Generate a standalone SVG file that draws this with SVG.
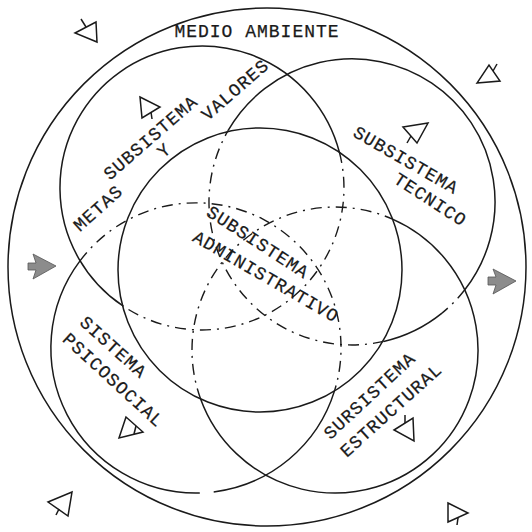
<svg xmlns="http://www.w3.org/2000/svg" width="532" height="532" viewBox="0 0 532 532">
<style>
.ln{fill:none;stroke:#1a1a1a;stroke-width:1.5}
.dd{fill:none;stroke:#1a1a1a;stroke-width:1.4;stroke-dasharray:11 6 2 6}
.tri{fill:none;stroke:#1a1a1a;stroke-width:1.5;stroke-linejoin:miter}
.ga{fill:#8c8c8c;stroke:#555;stroke-width:0.8}
text{font-family:"Liberation Mono","DejaVu Sans Mono",monospace;font-size:18px;letter-spacing:1px;fill:#1a1a1a;stroke:#1a1a1a;stroke-width:0.25;text-anchor:middle}
</style>
<rect width="532" height="532" fill="#fff"/>

<g id="medio-ambiente">
  <circle class="ln" cx="267" cy="267" r="259"/>
  <text x="257" y="37">MEDIO AMBIENTE</text>
</g>

<g id="subsistema-metas-valores">
  <path class="ln" d="M122.6,305.7 A142,142 0 1 1 339.4,152.2"/>
  <path class="dd" d="M339.4,152.2 A142,142 0 0 1 122.6,305.7"/>
  <text transform="translate(150.5,137.5) rotate(-41)" y="6">SUBSISTEMA</text>
  <text transform="translate(235,89.5) rotate(-41)" y="6">VALORES</text>
  <text transform="translate(164,150) rotate(-41)" y="6">Y</text>
  <text transform="translate(98,208) rotate(-42)" y="6">METAS</text>
</g>

<g id="subsistema-tecnico">
  <path class="ln" d="M228.0,130.7 A143,143 0 1 1 464.8,289.8"/>
  <path class="dd" d="M464.8,289.8 A143,143 0 0 1 442.0,313.1"/>
  <path class="ln" d="M442.0,313.1 A143,143 0 0 1 383.7,341.4"/>
  <path class="dd" d="M383.7,341.4 A143,143 0 0 1 228.0,130.7"/>
  <text transform="translate(406,160) rotate(30)" y="6">SUBSISTEMA</text>
  <text transform="translate(430.5,199.5) rotate(33)" y="6">TECNICO</text>
</g>

<g id="sistema-psicosocial">
  <path class="ln" d="M334.5,390.9 A145,145 0 0 1 213.7,491.9"/>
  <path class="ln" d="M199.8,493.0 A145,145 0 0 1 80.0,260.9"/>
  <path class="dd" d="M80.0,260.9 A145,145 0 0 1 334.5,390.9"/>
  <text transform="translate(113.5,347) rotate(42)" y="6">SISTEMA</text>
  <text transform="translate(113.5,380) rotate(42.5)" y="6">PSICOSOCIAL</text>
</g>

<g id="subsistema-estructural">
  <path class="ln" d="M392.5,219.1 A143,143 0 1 1 200.6,398.9"/>
  <path class="dd" d="M200.6,398.9 A143,143 0 0 1 392.5,219.1"/>
  <text transform="translate(369.5,395.5) rotate(-43)" y="6">SURSISTEMA</text>
  <text transform="translate(391,410) rotate(-42)" y="6">ESTRUCTURAL</text>
</g>

<g id="subsistema-administrativo">
  <circle class="ln" cx="260" cy="270" r="142"/>
  <text transform="translate(258,242) rotate(33)" y="6">SUBSISTEMA</text>
  <text transform="translate(266,276.5) rotate(30)" y="6">ADMINISTRATIVO</text>
</g>

<g id="connectors">
  <polygon class="ga" points="33,254 56,266 33,279 36,270 28,270 28,263 36,263"/>
  <polygon class="ga" points="493,269 516,281 493,294 496,285 488,285 488,277 496,277"/>
  <polygon class="tri" points="75,33 96,22 97,42"/><line class="tri" x1="86" y1="27" x2="81" y2="19"/>
  <polygon class="tri" points="477,83 500,81 489,65"/><line class="tri" x1="493" y1="71" x2="497" y2="64"/>
  <polygon class="tri" points="140,97 160,107 142,118"/><line class="tri" x1="151" y1="112" x2="152" y2="119"/>
  <polygon class="tri" points="403,127 428,123 417,143"/><line class="tri" x1="411" y1="136" x2="407" y2="143"/>
  <polygon class="tri" points="126,417 119,438 143,432"/><line class="tri" x1="134" y1="434" x2="136" y2="426"/>
  <polygon class="tri" points="394,430 413,418 414,441"/><line class="tri" x1="405" y1="423" x2="405" y2="415"/>
  <polygon class="tri" points="48,502 72,492 68,516"/><line class="tri" x1="59" y1="509" x2="56" y2="515"/>
  <polygon class="tri" points="448,503 468,513 448,522"/><line class="tri" x1="458" y1="518" x2="457" y2="525"/>
</g>
</svg>
